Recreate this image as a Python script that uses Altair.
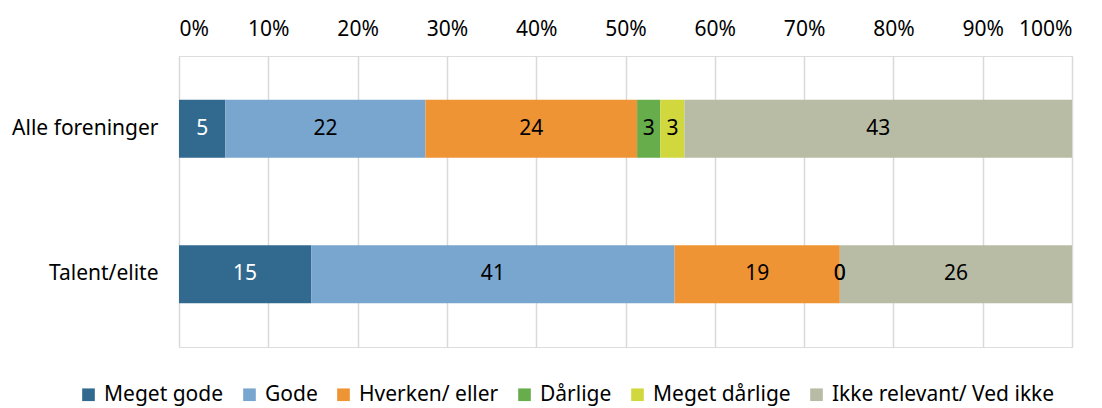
import altair as alt
import pandas as pd

categories = ["Alle foreninger", "Talent/elite"]
responses = ["Meget gode", "Gode", "Hverken/ eller", "Dårlige", "Meget dårlige", "Ikke relevant/ Ved ikke"]
colors = ["#31698F", "#79A6CF", "#EF9434", "#67AD4C", "#D1D83E", "#B8BCA5"]
alle_values = [5.2, 22.4, 23.7, 2.6, 2.7, 43.4]
talent_values = [14.8, 40.7, 18.5, 0.0, 0.0, 26.0]
alle_labels = ["5", "22", "24", "3", "3", "43"]
talent_labels = ["15", "41", "19", "0", "0", "26"]
x_ticks = [0, 0.1, 0.2, 0.3, 0.4, 0.5, 0.6, 0.7, 0.8, 0.9, 1.0]

rows = []
for cat, vals, labs in [(categories[0], alle_values, alle_labels),
                        (categories[1], talent_values, talent_labels)]:
    for i, (r, v, l) in enumerate(zip(responses, vals, labs)):
        rows.append({"cat": cat, "resp": r, "value": v, "label": l, "ord": i,
                     "white": 1 if i == 0 else 0})
df = pd.DataFrame(rows)

FONT = "Noto Sans"

base = alt.Chart(df).transform_stack(
    stack="value", as_=["v0", "v1"], groupby=["cat"],
    sort=[alt.SortField("ord", order="ascending")]
).transform_calculate(
    x0="datum.v0 / 100", x1="datum.v1 / 100", xm="(datum.v0 + datum.v1) / 200"
)

y_enc = alt.Y("cat:N", sort=categories, title=None,
              scale=alt.Scale(paddingInner=0.6, paddingOuter=0.3),
              axis=alt.Axis(domain=False, ticks=False, labelFont=FONT, labelFontSize=21,
                            labelColor="#000000", labelPadding=21, grid=False))

bars = base.mark_bar(stroke=None).encode(
    x=alt.X("x0:Q", scale=alt.Scale(domain=[0, 1], nice=False),
            axis=alt.Axis(orient="top", format="%", values=x_ticks, domain=False, ticks=False,
                          grid=True, gridColor="#D9D9D9", gridWidth=1.5,
                          labelFont=FONT, labelFontSize=21, labelColor="#000000",
                          labelPadding=17, title=None)),
    x2="x1:Q",
    y=y_enc,
    color=alt.Color("resp:N", sort=responses,
                    scale=alt.Scale(domain=responses, range=colors),
                    legend=alt.Legend(title=None, orient="none", direction="horizontal",
                                      legendX=-101, legendY=328, columns=6,
                                      symbolType="square", symbolSize=160, symbolStrokeWidth=0,
                                      labelFont=FONT, labelFontSize=21, labelColor="#000000",
                                      labelOffset=5, columnPadding=15, labelLimit=400)),
    order=alt.Order("ord:Q"),
)

texts = base.mark_text(font=FONT, fontSize=21, baseline="middle", align="center").encode(
    x=alt.X("xm:Q"),
    y=alt.Y("cat:N", sort=categories),
    text="label:N",
    color=alt.condition("datum.white == 1", alt.value("#FFFFFF"), alt.value("#000000")),
)

chart = alt.layer(bars, texts).properties(
    width=893, height=291,
    autosize=alt.AutoSizeParams(type="none"),
    padding={"left": 171, "top": 48, "right": 22, "bottom": 70},
).configure_view(stroke=None).configure(background="#FFFFFF")

chart.save("out.html", embed_options={"renderer": "svg", "actions": False})
